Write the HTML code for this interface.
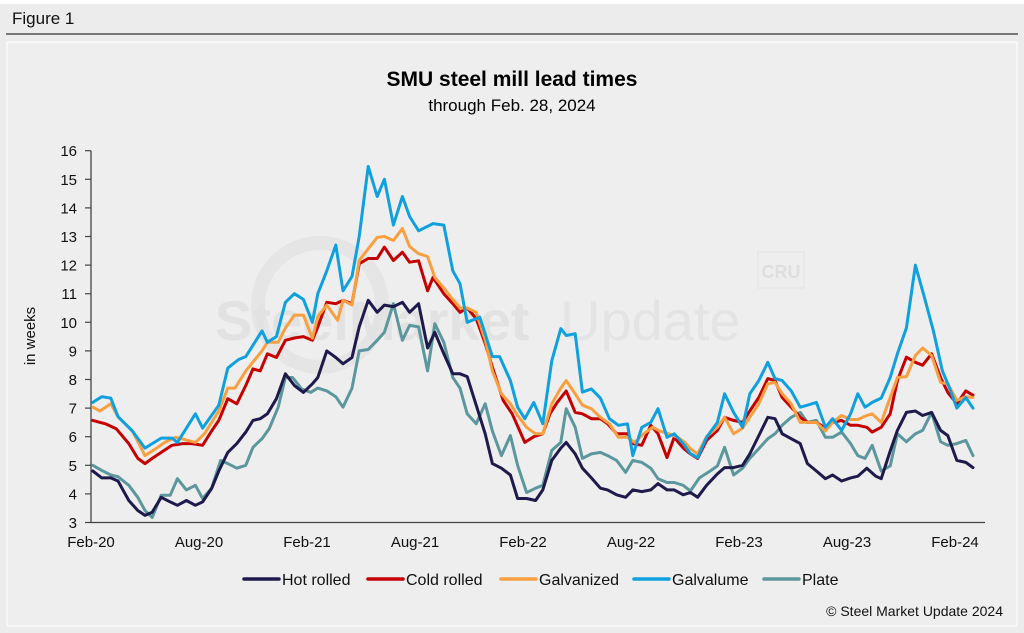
<!DOCTYPE html>
<html><head><meta charset="utf-8">
<style>
html,body{margin:0;padding:0;background:#fff;}
body{width:1024px;height:633px;overflow:hidden;font-family:"Liberation Sans",sans-serif;}
#wrap{position:absolute;left:0;top:4px;width:1024px;height:629px;background:#ececec;}
</style></head>
<body>
<div id="wrap"></div>
<svg id="chart" width="1024" height="633" style="position:absolute;left:0;top:0" font-family="Liberation Sans, sans-serif">
  <text x="12" y="24" font-size="17" fill="#111">Figure 1</text>
  <line x1="6" y1="34" x2="1018" y2="34" stroke="#333" stroke-width="1.2"/>
  <rect x="7" y="42" width="1010" height="584" fill="#eeeeee" stroke="#fafafa" stroke-width="1.5"/>
  <g fill="#e3e3e3">
    <circle cx="320" cy="305" r="62" fill="none" stroke="#e5e5e5" stroke-width="14"/>
    <text x="215" y="340" font-size="56" font-weight="bold" fill="#e2e2e2">SteelMarket</text>
    <text x="560" y="340" font-size="56" fill="#e4e4e4">Update</text>
    <rect x="758" y="252" width="46" height="36" fill="none" stroke="#e2e2e2" stroke-width="1"/>
    <text x="781" y="278" font-size="18" font-weight="bold" text-anchor="middle" fill="#dedede">CRU</text>
  </g>
  <text x="512" y="86" font-size="21" font-weight="bold" text-anchor="middle" fill="#000">SMU steel mill lead times</text>
  <text x="512" y="111" font-size="17" text-anchor="middle" fill="#000">through Feb. 28, 2024</text>
  <text transform="translate(35,336) rotate(-90)" font-size="15" text-anchor="middle" fill="#111">in weeks</text>
  <g id="axes"></g>
  <g id="series"></g>
  <g id="legend"></g>
  <text x="1003" y="616" font-size="14" text-anchor="end" fill="#111">© Steel Market Update 2024</text>
</svg>
<script>
const yTicks = [3,4,5,6,7,8,9,10,11,12,13,14,15,16];
const xTickMonths = [0,6,12,18,24,30,36,42,48];
const xTickLabels = ["Feb-20","Aug-20","Feb-21","Aug-21","Feb-22","Aug-22","Feb-23","Aug-23","Feb-24"];
const seriesNames = ["Hot rolled","Cold rolled","Galvanized","Galvalume","Plate"];
const seriesColors = ["#1e1a4b","#c40000","#f8a040","#10a0de","#5b979c"];

const hotRolled = [[0.1,4.8],[0.6,4.56],[1.1,4.56],[1.5,4.45],[2.1,3.77],[2.6,3.42],[3.0,3.25],[3.4,3.36],[3.9,3.88],[4.4,3.72],[4.8,3.6],[5.3,3.77],[5.8,3.6],[6.2,3.72],[6.7,4.19],[7.1,4.8],[7.6,5.45],[8.1,5.76],[8.6,6.16],[9.0,6.57],[9.4,6.63],[9.8,6.8],[10.3,7.33],[10.8,8.2],[11.3,7.79],[11.8,7.55],[12.3,7.85],[12.6,8.07],[13.1,9.0],[13.6,8.77],[14.0,8.55],[14.5,8.77],[14.9,9.84],[15.4,10.77],[15.9,10.35],[16.3,10.6],[16.8,10.55],[17.3,10.7],[17.7,10.35],[18.2,10.65],[18.7,9.1],[19.1,9.65],[19.6,8.9],[20.1,8.2],[20.5,8.2],[20.9,8.1],[21.4,7.1],[21.9,6.1],[22.3,5.06],[22.8,4.9],[23.3,4.66],[23.7,3.84],[24.2,3.84],[24.7,3.77],[25.1,4.14],[25.6,5.17],[26.1,5.6],[26.4,5.8],[26.9,5.4],[27.3,4.9],[27.8,4.56],[28.3,4.2],[28.7,4.14],[29.2,3.97],[29.7,3.88],[30.1,4.14],[30.6,4.08],[31.1,4.14],[31.5,4.36],[32.0,4.14],[32.4,4.14],[32.9,3.97],[33.3,4.05],[33.7,3.88],[34.2,4.3],[34.8,4.7],[35.2,4.92],[35.7,4.92],[36.2,5.0],[36.6,5.4],[37.1,6.04],[37.6,6.68],[38.0,6.63],[38.4,6.1],[38.9,5.93],[39.4,5.76],[39.8,5.06],[40.3,4.8],[40.8,4.53],[41.2,4.66],[41.7,4.45],[42.2,4.56],[42.6,4.62],[43.1,4.9],[43.6,4.62],[43.9,4.53],[44.4,5.5],[44.8,6.22],[45.3,6.85],[45.8,6.9],[46.2,6.74],[46.7,6.85],[47.2,6.22],[47.6,6.04],[48.1,5.17],[48.6,5.1],[49.0,4.92]];
const coldRolled = [[0.1,6.57],[0.8,6.45],[1.4,6.28],[2.1,5.76],[2.6,5.24],[3.0,5.06],[3.4,5.24],[3.9,5.45],[4.5,5.7],[5.1,5.76],[5.6,5.76],[6.2,5.7],[6.7,6.2],[7.1,6.57],[7.6,7.33],[8.1,7.15],[8.6,7.79],[9.0,8.37],[9.4,8.3],[9.8,8.9],[10.3,8.77],[10.8,9.37],[11.3,9.45],[11.8,9.5],[12.3,9.37],[12.6,9.84],[13.1,10.7],[13.6,10.65],[14.0,10.77],[14.5,10.65],[14.9,12.05],[15.4,12.23],[15.9,12.23],[16.3,12.63],[16.8,12.16],[17.3,12.45],[17.7,12.1],[18.2,12.15],[18.7,11.1],[19.0,11.57],[19.6,11.0],[20.1,10.65],[20.5,10.35],[20.9,10.5],[21.4,10.13],[21.9,9.26],[22.3,8.43],[22.9,7.27],[23.4,6.8],[24.1,5.8],[24.6,6.0],[25.1,6.1],[25.5,6.8],[25.9,7.2],[26.4,7.6],[26.9,6.85],[27.3,6.8],[27.8,6.63],[28.3,6.63],[28.7,6.45],[29.2,6.1],[29.8,6.1],[30.1,5.76],[30.6,5.7],[31.1,6.4],[31.5,6.1],[32.0,5.27],[32.4,5.98],[32.9,5.6],[33.3,5.4],[33.7,5.24],[34.2,5.87],[34.8,6.22],[35.2,6.68],[35.7,6.57],[36.2,6.5],[36.6,6.9],[37.1,7.37],[37.6,8.03],[38.0,7.96],[38.4,7.37],[38.9,7.03],[39.4,6.68],[39.8,6.5],[40.3,6.5],[40.8,6.3],[41.2,6.5],[41.7,6.57],[42.2,6.4],[42.6,6.4],[43.1,6.33],[43.4,6.16],[43.9,6.33],[44.4,6.8],[44.8,7.96],[45.3,8.78],[45.8,8.6],[46.2,8.5],[46.7,8.9],[47.2,8.07],[47.6,7.55],[48.1,7.15],[48.6,7.6],[49.0,7.45]];
const galvanized = [[0.1,7.03],[0.5,6.9],[1.1,7.15],[1.5,6.7],[2.3,6.2],[3.0,5.34],[3.6,5.58],[4.1,5.8],[4.7,5.98],[5.2,5.9],[5.8,5.8],[6.3,6.1],[7.1,6.9],[7.6,7.7],[8.0,7.7],[8.6,8.3],[9.5,9.0],[9.8,9.3],[10.4,9.3],[10.8,9.8],[11.3,10.25],[11.8,10.25],[12.3,9.44],[12.6,10.2],[13.1,10.6],[13.7,10.07],[14.0,10.77],[14.5,10.6],[14.9,12.16],[15.4,12.57],[15.9,12.97],[16.3,13.0],[16.8,12.86],[17.3,13.28],[17.7,12.65],[18.2,12.4],[18.7,12.3],[19.1,11.57],[19.6,11.2],[20.1,10.8],[20.5,10.5],[20.9,10.5],[21.4,10.35],[21.9,9.37],[22.3,8.3],[22.8,7.5],[23.3,7.15],[23.7,6.74],[24.2,6.33],[24.7,6.1],[25.1,6.1],[25.6,7.15],[26.1,7.7],[26.4,7.96],[26.9,7.5],[27.3,7.1],[27.8,6.98],[28.3,6.68],[28.8,6.45],[29.3,5.98],[29.8,5.98],[30.2,5.8],[30.7,6.1],[31.2,6.33],[31.6,6.2],[32.1,6.1],[32.6,5.98],[33.0,5.8],[33.3,5.58],[33.7,5.4],[34.2,6.0],[34.8,6.33],[35.2,6.68],[35.7,6.1],[36.2,6.3],[36.6,6.68],[37.1,7.15],[37.6,7.85],[38.0,7.9],[38.4,7.5],[38.9,7.15],[39.4,6.5],[39.8,6.5],[40.3,6.5],[40.8,6.2],[41.2,6.5],[41.7,6.74],[42.2,6.6],[42.6,6.6],[43.1,6.74],[43.4,6.8],[43.9,6.5],[44.4,7.37],[44.8,8.07],[45.3,8.1],[45.8,8.84],[46.2,9.1],[46.7,8.84],[47.2,7.9],[47.6,7.85],[48.1,7.27],[48.6,7.4],[49.0,7.37]];
const galvalume = [[0.1,7.2],[0.6,7.4],[1.1,7.35],[1.5,6.7],[2.3,6.2],[3.0,5.6],[3.9,5.95],[4.5,5.95],[4.8,5.8],[5.8,6.8],[6.2,6.3],[7.1,7.1],[7.6,8.4],[8.2,8.7],[8.6,8.8],[9.5,9.7],[9.8,9.3],[10.3,9.5],[10.8,10.7],[11.3,11.0],[11.8,10.8],[12.3,10.0],[12.6,11.0],[13.1,11.8],[13.6,12.7],[14.0,11.1],[14.5,11.6],[14.9,13.0],[15.4,15.45],[15.9,14.4],[16.3,15.0],[16.8,13.4],[17.3,14.4],[17.7,13.7],[18.2,13.2],[19.0,13.45],[19.6,13.4],[20.1,11.8],[20.5,11.35],[20.9,10.0],[21.6,10.18],[22.3,8.8],[22.7,8.8],[23.3,7.96],[23.7,7.03],[24.1,6.63],[24.6,7.2],[25.1,6.45],[25.6,8.66],[26.1,9.78],[26.4,9.54],[26.9,9.6],[27.3,7.56],[27.8,7.67],[28.3,7.35],[28.8,6.63],[29.3,6.4],[29.8,6.45],[30.1,5.34],[30.6,6.33],[31.1,6.5],[31.5,6.98],[32.0,5.98],[32.4,6.1],[32.9,5.76],[33.3,5.41],[33.7,5.27],[34.2,5.98],[34.8,6.5],[35.2,7.5],[35.7,6.85],[36.2,6.33],[36.6,7.5],[37.1,7.96],[37.6,8.6],[38.0,8.03],[38.4,7.96],[38.9,7.6],[39.4,7.03],[39.8,7.1],[40.3,7.2],[40.8,6.33],[41.2,6.63],[41.7,6.22],[42.2,6.8],[42.6,7.5],[43.0,7.03],[43.4,7.2],[43.9,7.35],[44.4,8.07],[44.8,8.9],[45.3,9.8],[45.8,12.0],[46.3,10.87],[46.8,9.7],[47.3,8.3],[47.7,7.7],[48.1,7.0],[48.6,7.37],[49.0,7.0]];
const plate = [[0.1,5.0],[0.6,4.82],[1.1,4.66],[1.5,4.6],[2.1,4.3],[2.6,3.88],[3.0,3.42],[3.4,3.18],[3.9,3.95],[4.4,3.95],[4.8,4.53],[5.3,4.14],[5.8,4.3],[6.2,3.84],[6.7,4.2],[7.2,5.17],[7.6,5.06],[8.1,4.9],[8.6,5.0],[9.0,5.63],[9.5,5.93],[9.9,6.28],[10.4,7.03],[10.8,8.07],[11.2,8.07],[11.7,7.67],[12.2,7.55],[12.6,7.7],[13.1,7.6],[13.6,7.4],[14.0,7.03],[14.5,7.7],[14.9,9.0],[15.4,9.05],[15.9,9.37],[16.3,9.65],[16.8,10.65],[17.3,9.37],[17.7,9.89],[18.2,9.84],[18.7,8.3],[19.1,9.95],[19.6,9.3],[20.1,8.07],[20.5,7.7],[20.9,6.8],[21.4,6.45],[21.9,7.15],[22.3,6.2],[22.8,5.34],[23.3,6.04],[23.7,5.0],[24.2,4.05],[24.7,4.2],[25.1,4.3],[25.6,5.52],[26.1,5.8],[26.4,6.98],[26.9,6.33],[27.3,5.24],[27.8,5.4],[28.3,5.45],[28.7,5.34],[29.2,5.17],[29.7,4.75],[30.1,5.17],[30.6,5.1],[31.1,4.9],[31.5,4.53],[32.0,4.4],[32.4,4.4],[32.9,4.3],[33.3,4.1],[33.8,4.56],[34.4,4.8],[34.8,4.98],[35.2,5.63],[35.7,4.66],[36.2,4.9],[36.6,5.24],[37.1,5.58],[37.6,5.93],[38.0,6.1],[38.4,6.4],[38.9,6.68],[39.4,6.85],[39.8,6.5],[40.3,6.57],[40.8,5.98],[41.2,5.98],[41.7,6.16],[42.2,5.76],[42.6,5.34],[43.0,5.24],[43.4,5.7],[43.9,4.8],[44.4,4.98],[44.8,6.1],[45.3,5.82],[45.8,6.1],[46.2,6.22],[46.7,6.85],[47.2,5.82],[47.6,5.7],[48.1,5.76],[48.6,5.87],[49.0,5.34]];

const NS = "http://www.w3.org/2000/svg";
const X0 = 91, PXM = 18, Y0 = 522.5, PXU = 28.6;
function xScale(m){ return X0 + m * PXM; }
function yScale(v){ return Y0 - (v - 3) * PXU; }
function mk(tag, attrs, parent){ const e = document.createElementNS(NS, tag); for (const k in attrs) e.setAttribute(k, attrs[k]); parent.appendChild(e); return e; }

const axes = document.getElementById('axes');
const yAxis = mk('line', {x1:X0, y1:yScale(16), x2:X0, y2:Y0, stroke:'#444', 'stroke-width':1.3}, axes);


const xAxis = mk('line', {x1:X0, y1:Y0, x2:985, y2:Y0, stroke:'#444', 'stroke-width':1.3}, axes);


yTicks.forEach(function(t){
  const y = yScale(t);
  const tk = mk('line', {x1:X0-6, y1:y, x2:X0, y2:y, stroke:'#444', 'stroke-width':1.2}, axes);
  
  
  const lb = mk('text', {x:77, y:y+5.5, 'font-size':15, 'text-anchor':'end', fill:'#111'}, axes);
  lb.textContent = t;
  
  
});
xTickMonths.forEach(function(m, i){
  const lb = mk('text', {x:xScale(m), y:547, 'font-size':15, 'text-anchor':'middle', fill:'#111'}, axes);
  lb.textContent = xTickLabels[i];
  
  
});

const seriesData = [hotRolled, coldRolled, galvanized, galvalume, plate];
const sg = document.getElementById('series');
const drawOrder = [4,0,1,2,3];
drawOrder.forEach(function(i){
  const d = seriesData[i].map(function(p, j){ return (j ? 'L' : 'M') + xScale(p[0]).toFixed(1) + ' ' + yScale(p[1]).toFixed(1); }).join(' ');
  const path = mk('path', {d:d, fill:'none', stroke:seriesColors[i], 'stroke-width':3, 'stroke-linejoin':'round', 'stroke-linecap':'round'}, sg);
  
  
});

const lg = document.getElementById('legend');
const legendX = [244, 368, 501, 634, 764];
seriesNames.forEach(function(n, i){
  const g = mk('g', {}, lg);
  
  
  mk('line', {x1:legendX[i], y1:579, x2:legendX[i]+35, y2:579, stroke:seriesColors[i], 'stroke-width':3.5, 'stroke-linecap':'round'}, g);
  const t = mk('text', {x:legendX[i]+38, y:585, 'font-size':16, fill:'#111'}, g);
  t.textContent = n;
});
</script>
</body></html>
